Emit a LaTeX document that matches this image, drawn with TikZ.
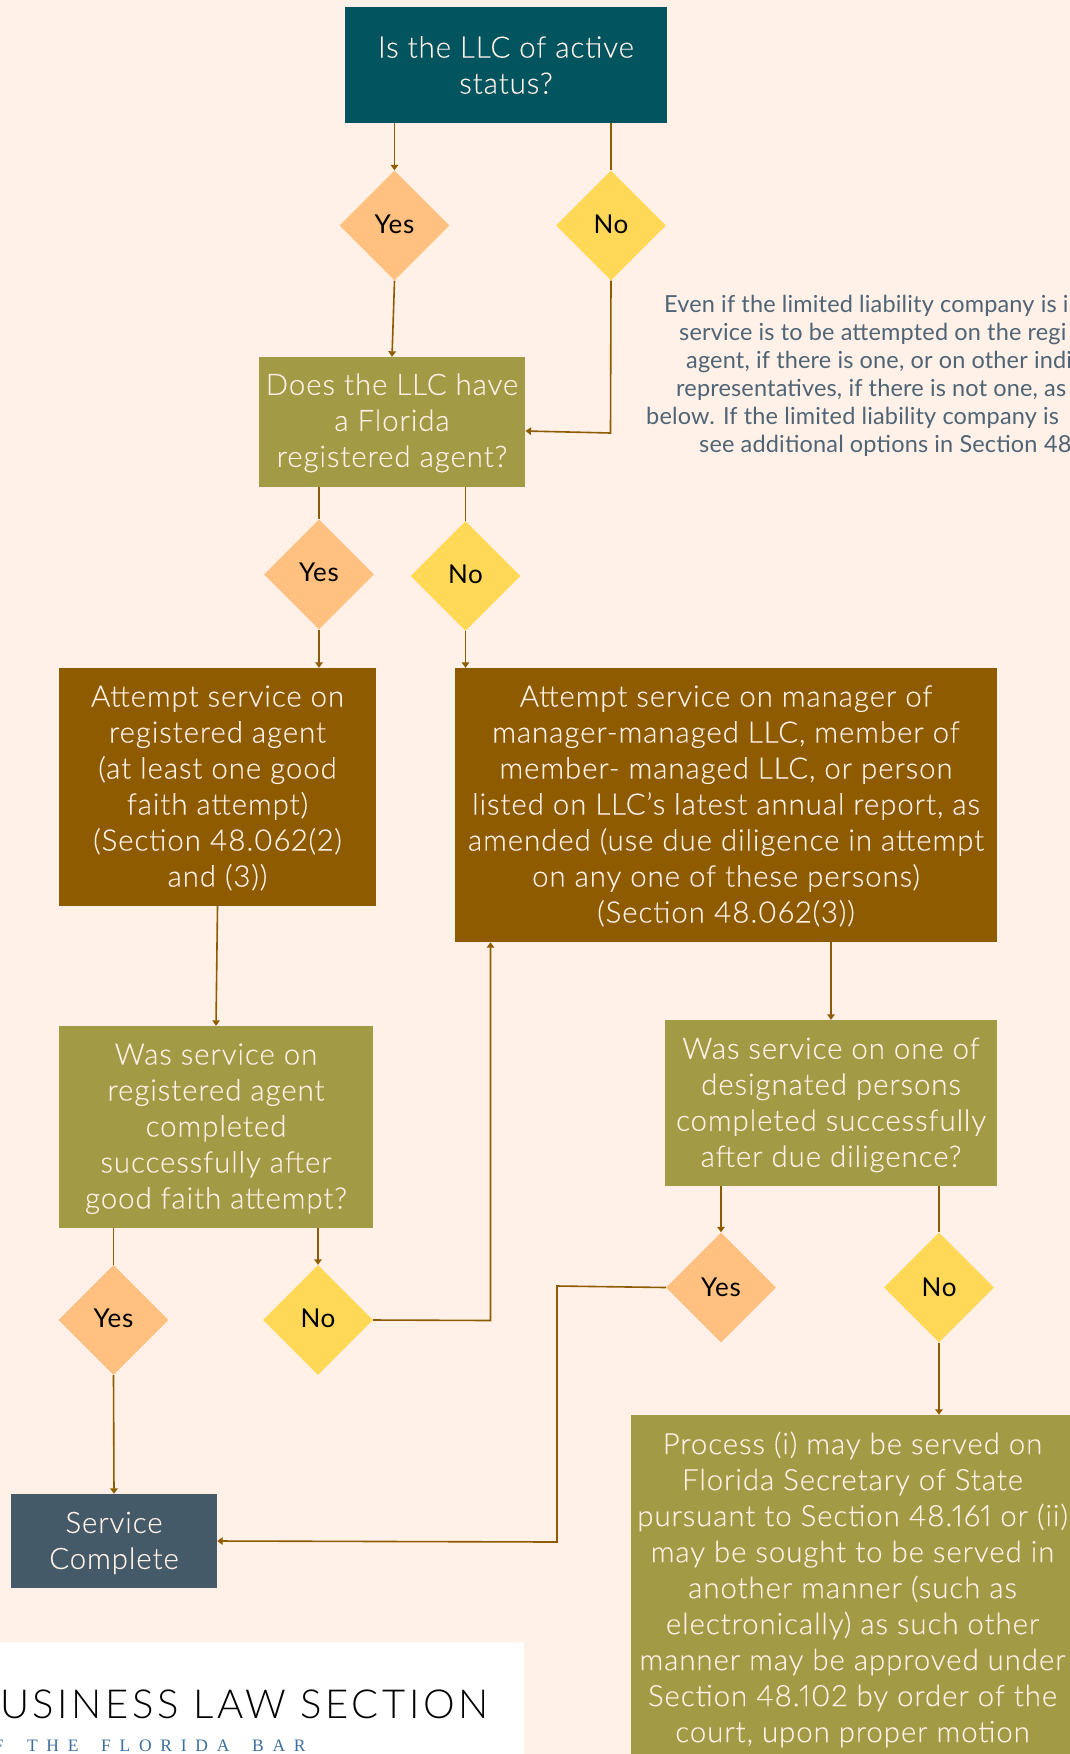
\documentclass[tikz,border=0pt]{standalone}
\usepackage{fontspec}
\usetikzlibrary{shapes.geometric,arrows.meta}
\setmainfont{Lato}
\newfontfamily\bodyfont[LetterSpace=3,FakeBold=0.15,Numbers=Proportional]{Lato Light}
\newfontfamily\choicefont[LetterSpace=3]{Lato}
\newfontfamily\notefont[LetterSpace=0.7,Numbers=Proportional]{Lato}
\newfontfamily\logofont[LetterSpace=9]{Lato Light}
\newfontfamily\barfont[LetterSpace=50]{Liberation Serif}
\newcommand\firstline[1]{\rule{0pt}{#1pt}}
\newcommand\lift[1]{\rule[-#1pt]{0pt}{#1pt}}
\definecolor{bgc}{HTML}{FFF1E8}
\definecolor{teal}{HTML}{02545F}
\definecolor{olivec}{HTML}{A39A45}
\definecolor{brownc}{HTML}{8F5B00}
\definecolor{yesc}{HTML}{FFC080}
\definecolor{noc}{HTML}{FFD858}
\definecolor{slatec}{HTML}{455A69}
\definecolor{notec}{HTML}{4F6475}
\definecolor{barc}{HTML}{3D6F9E}
\tikzset{
  flowbox/.style={rectangle,inner sep=0pt,text=bgc,align=center,font=\bodyfont\fontsize{29.5}{36}\selectfont},
  choice/.style={diamond,shape aspect=1,inner sep=0pt,minimum width=110pt,minimum height=110pt,font=\choicefont\fontsize{26}{30}\selectfont,text=black},
  yesd/.style={choice,fill=yesc},
  nod/.style={choice,fill=noc},
  conn/.style={draw=brownc,line width=1.6pt},
  arrowed/.style={conn,-{Triangle[length=5.5pt,width=7.5pt]}},
}
\begin{document}
\begin{tikzpicture}[x=1pt,y=-1pt]
\useasboundingbox (0,0) rectangle (1070,1754);
\fill[bgc] (0,0) rectangle (1070,1754);
% logo
\node[fill=white,inner sep=0pt,minimum width=524pt,minimum height=112pt] (logo) at (262,1698) {};
\node[anchor=base west,inner sep=0pt,text=black,font=\logofont\fontsize{40}{40}\selectfont] (logoa) at (0,1718) {USINESS LAW SECTION};
\node[anchor=base west,inner sep=0pt,text=barc,font=\barfont\fontsize{17.5}{18}\selectfont] (logob) at (-6.5,1751) {F\hspace{10.5pt} THE\hspace{9.5pt} FLORIDA\hspace{9.5pt} BAR};
% boxes
\node[flowbox,fill=teal,minimum width=322pt,minimum height=116pt] (top) at (506,65) {Is the LLC of active\\status?};
\node[flowbox,fill=olivec,minimum width=266pt,minimum height=130pt] (box2) at (392,422) {\firstline{23.2}Does the LLC have\\a Florida\\registered agent?};
\node[flowbox,fill=brownc,minimum width=317pt,minimum height=238pt] (box3) at (217.5,787) {\firstline{23}Attempt service on\\registered agent\\(at least one good\\faith attempt)\\(Section 48.062(2)\\and (3))};
\node[flowbox,fill=brownc,minimum width=542pt,minimum height=274pt] (box4) at (726,805) {\firstline{23}Attempt service on manager of\\manager-managed LLC, member of\\member- managed LLC, or person\\listed on LLC’s latest annual report, as\\amended (use due diligence in attempt\\on any one of these persons)\\(Section 48.062(3))};
\node[flowbox,fill=olivec,minimum width=314pt,minimum height=202pt] (box5) at (216,1127) {\firstline{24.5}Was service on\\registered agent\\completed\\successfully after\\good faith attempt?};
\node[flowbox,fill=olivec,minimum width=332pt,minimum height=166pt] (box6) at (831,1103) {\firstline{25}Was service on one of\\designated persons\\completed successfully\\after due diligence?};
\node[flowbox,fill=slatec,minimum width=206pt,minimum height=94pt] (box7) at (114,1541) {\firstline{25}Service\\Complete};
\node[flowbox,fill=olivec,minimum width=443pt,minimum height=349pt] (box8) at (852.5,1589.5) {Process (i) may be served on\\Florida Secretary of State\\pursuant to Section 48.161 or (ii)\\may be sought to be served in\\another manner (such as\\electronically) as such other\\manner may be approved under\\Section 48.102 by order of the\\court, upon proper motion};
% note
\node[anchor=base west,inner sep=0pt,text=notec,align=left,font=\notefont\fontsize{23.5}{27.9}\selectfont] (note) at (646,452) {\hspace*{18pt}Even if the limited liability company is i\\\hspace*{33pt}service is to be attempted on the regi\\\hspace*{40pt}agent, if there is one, or on other indi\\\hspace*{30pt}representatives, if there is not one, as\\below. If the limited liability company is\\\hspace*{53pt}see additional options in Section 48};
% decisions
\node[yesd] (yes1) at (394.5,225.5) {\lift{2}Yes};
\node[nod] (no1) at (611,225.5) {\lift{2}No};
\node[yesd] (yes2) at (319,574.5) {\lift{4}Yes};
\node[nod] (no2) at (465.5,576) {\lift{4}No};
\node[yesd] (yes3) at (113.5,1320) {\lift{4}Yes};
\node[nod] (no3) at (318,1320) {\lift{4}No};
\node[yesd] (yes4) at (721,1287.5) {Yes};
\node[nod] (no4) at (939,1287.5) {No};
% bends
\coordinate (b1) at (610.5,433);
\coordinate (b1e) at (525.5,431);
\coordinate (b2) at (490.5,1320.5);
\coordinate (b3) at (557,1286);
\coordinate (b3d) at (557,1542);
% connectors
\draw[arrowed] (yes1.north |- top.south) -- (yes1.north);
\draw[conn] (no1.north |- top.south) -- (no1.north);
\draw[arrowed] (yes1.south) -- (box2.north);
\draw[arrowed] (no1.south) -- (b1) -- (b1e);
\draw[conn] (yes2.north |- box2.south) -- (yes2.north);
\draw[conn] (no2.north |- box2.south) -- (no2.north);
\draw[arrowed] (yes2.south) -- (yes2.south |- box3.north);
\draw[arrowed] (no2.south) -- (no2.south |- box4.north);
\draw[arrowed] (box3.south) -- (box5.north);
\draw[arrowed] (box6.north |- box4.south) -- (box6.north);
\draw[conn] (yes3.north |- box5.south) -- (yes3.north);
\draw[arrowed] (no3.north |- box5.south) -- (no3.north);
\draw[arrowed] (yes3.south) -- (box7.north);
\draw[arrowed] (no3.east) -- (b2) -- (b2 |- box4.south);
\draw[arrowed] (yes4.north |- box6.south) -- (yes4.north);
\draw[conn] (no4.north |- box6.south) -- (no4.north);
\draw[arrowed] (no4.south) -- (no4.south |- box8.north);
\draw[arrowed] (yes4.west) -- (b3) -- (b3d) -- (box7.east);
\end{tikzpicture}
\end{document}
